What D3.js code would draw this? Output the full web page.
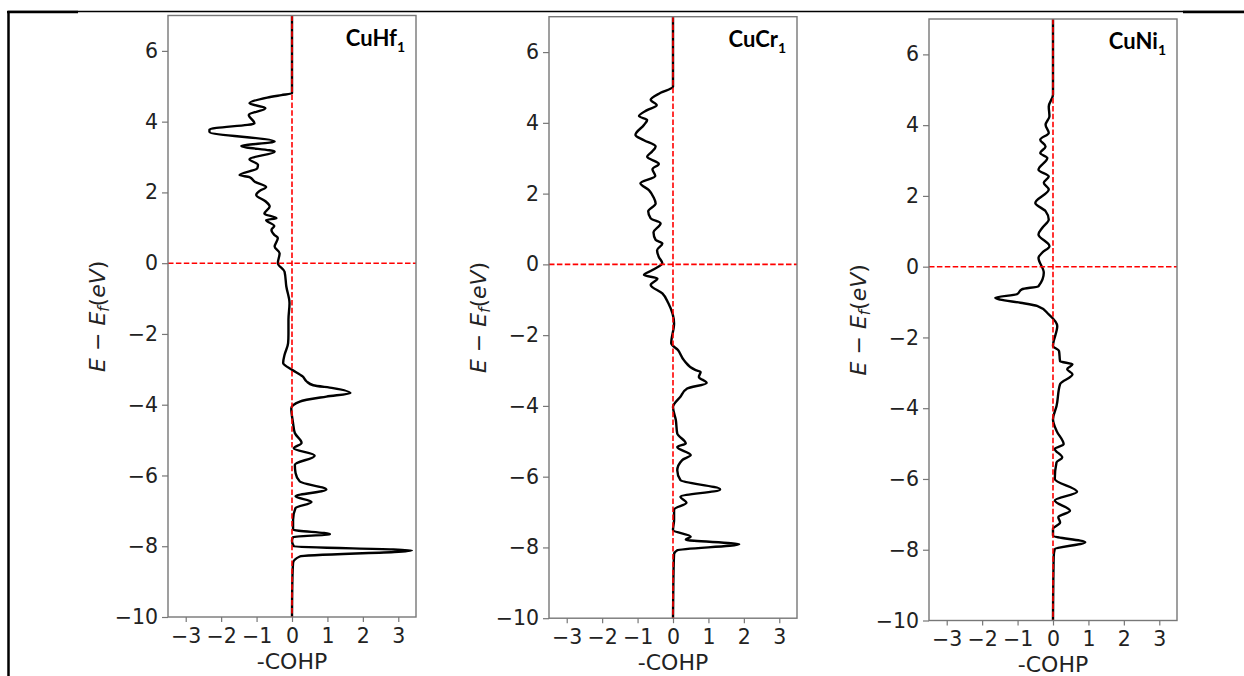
<!DOCTYPE html>
<meta charset="utf-8">
<html>
<head>
  <script src="https://d3js.org/d3.v7.min.js"></script>
  <style>
    body { margin: 0; background: #fff; }
    .tick text { font-family: "DejaVu Sans", sans-serif; font-size: 20.5px; fill: #222; }
  </style>
</head>
<body>
<div id="chart"></div>
<script>

// ---- data ----
var xTicks = [-3, -2, -1, 0, 1, 2, 3];
var yTicks = [-10, -8, -6, -4, -2, 0, 2, 4, 6];

var hfE = [7, 4.8, 4.75, 4.68, 4.52, 4.38, 4.19, 3.95, 3.78, 3.71, 3.44, 3.31, 3.15, 2.94, 2.78, 2.68, 2.49, 2.43, 2.3, 2.15, 2.05, 1.93, 1.75, 1.6, 1.4, 1.27, 1.22, 1.05, 0.94, 0.8, 0.71, 0.47, 0.28, 0, -0.24, -0.66, -1.13, -1.6, -2.0, -2.26, -2.59, -2.82, -3.01, -3.2, -3.34, -3.45, -3.53, -3.67, -3.77, -3.91, -4.1, -4.52, -4.8, -5.08, -5.23, -5.44, -5.7, -5.93, -6.17, -6.4, -6.59, -6.75, -6.92, -7.25, -7.53, -7.66, -7.74, -7.85, -8.0, -8.12, -8.29, -8.47, -9, -10];
var hfC = [0, 0, -0.3, -0.7, -1.2, -0.75, -1.22, -1.06, -2.33, -2.33, -0.49, -1.43, -0.49, -1.2, -0.96, -0.98, -1.48, -1.2, -1.05, -0.73, -0.9, -1.01, -0.75, -0.63, -0.78, -0.44, -0.73, -0.5, -0.58, -0.5, -0.4, -0.49, -0.35, -0.4, -0.21, -0.16, -0.07, -0.1, -0.1, -0.11, -0.21, -0.25, 0, 0.3, 0.41, 0.6, 1.16, 1.65, 0.97, 0.22, -0.02, 0.03, 0.08, 0.27, 0.05, 0.64, 0.08, 0.1, 0.22, 0.97, 0.1, 0.55, 0.1, 0.03, 0.03, 1.07, 0.03, 0, 0.05, 3.38, 0.22, 0.03, 0.01, 0];

var crE = [7, 5.02, 4.85, 4.65, 4.5, 4.36, 4.19, 4.08, 3.94, 3.66, 3.51, 3.33, 3.18, 3.04, 2.84, 2.69, 2.5, 2.29, 2.1, 1.9, 1.72, 1.5, 1.3, 1.16, 0.9, 0.69, 0.59, 0.4, 0.21, 0.03, -0.16, -0.3, -0.4, -0.58, -0.82, -1.1, -1.67, -2.23, -2.42, -2.71, -2.99, -3.04, -3.18, -3.35, -3.51, -3.74, -4.03, -4.4, -4.78, -5.06, -5.16, -5.39, -5.53, -5.82, -6.1, -6.36, -6.57, -6.74, -6.93, -7.23, -7.51, -7.7, -7.78, -7.91, -8.08, -8.19, -9, -10];
var crC = [0, 0, -0.35, -0.63, -0.46, -0.73, -0.96, -0.73, -0.82, -1.06, -0.82, -0.49, -0.6, -0.73, -0.4, -0.58, -0.5, -0.92, -0.68, -0.55, -0.49, -0.7, -0.63, -0.35, -0.55, -0.49, -0.3, -0.45, -0.4, -0.3, -0.58, -0.82, -0.44, -0.63, -0.3, -0.13, 0.03, -0.05, 0.14, 0.31, 0.64, 0.78, 0.73, 0.95, 0.4, 0.21, 0, 0.08, 0.12, 0.36, 0.12, 0.5, 0.26, 0.12, 0.21, 1.33, 0.21, 0.38, 0.03, 0.03, 0, 0.5, 0.36, 1.87, 0.12, 0.03, 0.01, 0];

var niE = [7, 4.86, 4.53, 4.25, 4.01, 3.78, 3.59, 3.4, 3.21, 3.07, 2.74, 2.55, 2.37, 2.18, 1.8, 1.57, 1.33, 1.1, 0.91, 0.58, 0.4, 0.25, -0.17, -0.55, -0.64, -0.78, -0.88, -0.93, -1.02, -1.11, -1.35, -1.68, -2.24, -2.38, -2.67, -2.76, -2.9, -3.04, -3.32, -3.94, -4.31, -4.64, -5.02, -5.15, -5.39, -5.53, -6.0, -6.36, -6.61, -6.9, -7.08, -7.23, -7.41, -7.6, -7.79, -7.98, -8.2, -10];
var niC = [0, 0, -0.12, -0.1, -0.21, -0.12, -0.36, -0.21, -0.36, -0.16, -0.41, -0.12, -0.26, -0.12, -0.5, -0.21, -0.12, -0.3, -0.41, -0.1, -0.3, -0.41, -0.26, -0.41, -0.88, -1.02, -1.63, -1.49, -0.92, -0.45, -0.12, 0.12, 0, 0.17, 0.2, 0.55, 0.4, 0.55, 0.2, 0.1, 0, 0.1, 0.3, 0.05, 0.26, 0.1, 0.05, 0.68, 0.05, 0.48, 0.15, 0.2, 0, 0, 0.91, 0.05, 0.02, 0];

var names = ["CuHf", "CuCr", "CuNi"];
var energies = [hfE, crE, niE];
var cohps = [hfC, crC, niC];

// ---- layout ----
var W = 1244, H = 676;
var pw = 248, ph = 601.5;
var lefts = [168, 549, 929];
var tops = [15.5, 16.7, 19];

var svg = d3.select("#chart").append("svg")
  .attr("width", W).attr("height", H);

// table frame behind the figure
svg.append("line").attr("x1", 8).attr("x2", W).attr("y1", 11.5).attr("y2", 11.5)
  .attr("stroke", "#000").attr("stroke-width", 1.3);
svg.append("line").attr("x1", 7).attr("x2", 78).attr("y1", 12).attr("y2", 12)
  .attr("stroke", "#000").attr("stroke-width", 2.5);
svg.append("line").attr("x1", 1183).attr("x2", W).attr("y1", 12).attr("y2", 12)
  .attr("stroke", "#000").attr("stroke-width", 2.5);
svg.append("line").attr("x1", 8.5).attr("x2", 8.5).attr("y1", 11).attr("y2", H)
  .attr("stroke", "#000").attr("stroke-width", 2.5);

names.forEach(function(name, i) {
  var g = svg.append("g")
    .attr("transform", "translate(" + lefts[i] + "," + tops[i] + ")");

  var x = d3.scaleLinear().domain([-3.5, 3.5]).range([0, pw]);
  var y = d3.scaleLinear().domain([-10, 7]).range([ph, 0]);

  var pts = energies[i].map(function(e, k) { return {e: e, c: cohps[i][k]}; });

  // curve
  g.append("path")
    .datum(pts)
    .attr("fill", "none")
    .attr("stroke", "#000")
    .attr("stroke-width", 2.4)
    .attr("stroke-linejoin", "round")
    .attr("d", d3.line()
      .x(function(d) { return x(d.c); })
      .y(function(d) { return y(d.e); })
      .curve(d3.curveMonotoneY));

  // red dashed zero lines
  g.append("line")
    .attr("x1", x(0)).attr("x2", x(0)).attr("y1", 0).attr("y2", ph)
    .attr("stroke", "#ff0000").attr("stroke-width", 1.6).attr("stroke-dasharray", "5.5,2.4");
  g.append("line")
    .attr("x1", 0).attr("x2", pw).attr("y1", y(0)).attr("y2", y(0))
    .attr("stroke", "#ff0000").attr("stroke-width", 1.6).attr("stroke-dasharray", "5.5,2.4");

  // frame
  g.append("rect")
    .attr("width", pw).attr("height", ph)
    .attr("fill", "none").attr("stroke", "#777").attr("stroke-width", 1.4);

  // axes
  var ax = g.append("g").attr("transform", "translate(0," + ph + ")")
    .call(d3.axisBottom(x).tickValues(xTicks).tickSize(5).tickPadding(5).tickFormat(d3.format("d")));
  var ay = g.append("g")
    .call(d3.axisLeft(y).tickValues(yTicks).tickSize(6).tickPadding(4).tickFormat(d3.format("d")));
  [ax, ay].forEach(function(a) {
    a.select(".domain").remove();
    a.selectAll(".tick line").attr("stroke", "#777").attr("stroke-width", 1.2);
    a.selectAll(".tick text").attr("font-size", null).attr("font-family", null);
  });
  ax.selectAll(".tick text").attr("dy", "0.78em");

  // axis labels
  g.append("text")
    .attr("x", x(0)).attr("y", ph + 51.5)
    .attr("text-anchor", "middle")
    .style("font-family", "DejaVu Sans").style("font-size", "22px").style("fill", "#222")
    .text("-COHP");

  var yl = g.append("text")
    .attr("transform", "translate(-71," + (ph / 2) + ") rotate(-90)")
    .attr("text-anchor", "middle")
    .attr("dy", "0.35em")
    .style("font-family", "DejaVu Sans").style("font-size", "22px").style("fill", "#222");
  yl.append("tspan").style("font-style", "italic").text("E");
  yl.append("tspan").text(" \u2212 ");
  yl.append("tspan").style("font-style", "italic").text("E");
  yl.append("tspan").style("font-style", "italic").style("font-size", "15px").attr("dy", 4).text("f");
  yl.append("tspan").attr("dy", -4).text("(");
  yl.append("tspan").style("font-style", "italic").text("eV");
  yl.append("tspan").text(")");

  // panel title
  var t = g.append("text")
    .attr("x", pw - 11).attr("y", 30)
    .attr("text-anchor", "end")
    .style("font-family", "Lato, 'Open Sans', sans-serif").style("font-weight", "bold")
    .style("font-size", "22px").style("fill", "#000");
  t.append("tspan").text(name);
  t.append("tspan").attr("dy", 6).style("font-size", "14px").text("1");
});

</script>
</body>
</html>
